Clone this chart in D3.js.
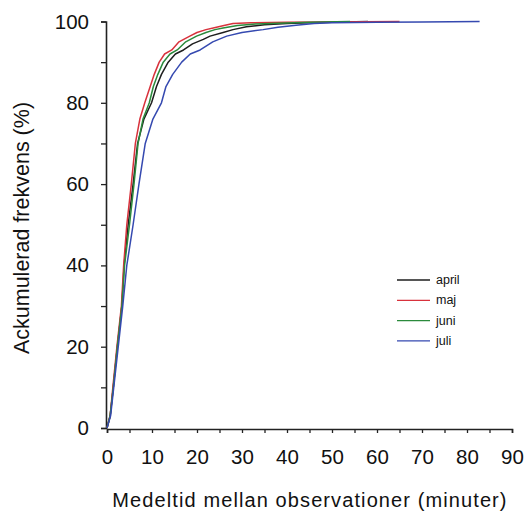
<!DOCTYPE html>
<html>
<head>
<meta charset="utf-8">
<script src="https://cdn.jsdelivr.net/npm/d3@7"></script>
<style>
  body { margin: 0; background: #fff; }
  text { font-family: "Liberation Sans", Arial, sans-serif; }
</style>
</head>
<body>
<svg id="chart" width="525" height="512"></svg>
<script>
// cumulative frequency (%) vs mean time between observations (minutes)
const months = ["april", "maj", "juni", "juli"];
const colors = ["#1e1e1e", "#d8323c", "#2b8a3c", "#3549b0"];

const aprilMin = [0, 0.7, 1.4, 2.3, 3.3, 3.8, 4.7, 5.8, 6.8, 8.2, 9.9, 11, 12.1, 13.6, 15.2, 17, 19, 21.4, 22.9, 25.8, 28, 31, 35, 40, 45, 50, 58];
const aprilPct = [0, 3, 10, 20, 30, 40, 50, 60, 70, 76, 80, 84, 87, 90, 92, 93, 94.5, 95.6, 96.4, 97.3, 98, 98.7, 99.2, 99.5, 99.7, 99.8, 100];

const majMin = [0, 0.7, 1.3, 2.2, 3.2, 3.7, 4.4, 5.4, 6.3, 7.3, 8.4, 9.6, 10.5, 11.6, 12.8, 14.4, 16, 18.4, 20, 22, 23.6, 26, 28, 32, 40, 50, 65];
const majPct = [0, 3, 10, 20, 30, 40, 50, 60, 70, 76, 80, 84, 87, 90, 92, 93, 95, 96.4, 97.3, 98, 98.4, 99, 99.5, 99.7, 99.8, 99.9, 100];

const juniMin = [0, 0.7, 1.4, 2.3, 3.3, 3.9, 5.0, 6.0, 6.9, 8.0, 9.4, 10.3, 11.3, 12.5, 14, 15.6, 17.5, 19.9, 22, 24, 25.8, 29, 33, 38, 45, 54];
const juniPct = [0, 3, 10, 20, 30, 40, 50, 60, 70, 76, 80, 84, 87, 90, 92, 93, 95, 96.4, 97.3, 98, 98.4, 99, 99.4, 99.6, 99.8, 100];

const juliMin = [0, 0.8, 1.5, 2.5, 3.5, 4.4, 5.8, 7.1, 8.5, 10.2, 12.1, 13.1, 14.6, 16.6, 18.5, 20.7, 23.5, 26.6, 30, 34.7, 38, 42, 46, 50, 60, 70, 82.8];
const juliPct = [0, 3, 10, 20, 30, 40, 50, 60, 70, 76, 80, 84, 87, 90, 92, 93, 95, 96.4, 97.3, 98, 98.6, 99.1, 99.5, 99.7, 99.8, 99.9, 100];

const xTickLabels = [0, 10, 20, 30, 40, 50, 60, 70, 80, 90];
const yTickLabels = [0, 20, 40, 60, 80, 100];

const series = [
  { name: months[0], xs: aprilMin, ys: aprilPct },
  { name: months[1], xs: majMin, ys: majPct },
  { name: months[2], xs: juniMin, ys: juniPct },
  { name: months[3], xs: juliMin, ys: juliPct }
];

const svg = d3.select("#chart");

const x = d3.scaleLinear().domain([0, 90]).range([107, 512]);
const y = d3.scaleLinear().domain([0, 100]).range([428, 21.5]);
const color = d3.scaleOrdinal(months, colors);

// y axis: ticks every 10, labels every 20
const yAxis = svg.append("g")
    .attr("transform", "translate(106,0)")
    .call(d3.axisLeft(y)
      .tickValues(d3.range(0, 101, 10))
      .tickSize(5)
      .tickPadding(12)
      .tickFormat(d => yTickLabels.includes(d) ? d : ""));

// x axis: ticks every 5, labels every 10
const xAxis = svg.append("g")
    .attr("transform", "translate(0,429)")
    .call(d3.axisBottom(x)
      .tickValues(d3.range(0, 91, 5))
      .tickSize(4)
      .tickPadding(16)
      .tickFormat(d => xTickLabels.includes(d) ? d : ""));

[yAxis, xAxis].forEach(a => {
  a.select(".domain").attr("stroke", "#222").attr("stroke-width", 1.6);
  a.selectAll(".tick line").attr("stroke", "#222").attr("stroke-width", 1.3);
  a.selectAll(".tick text")
    .attr("fill", "#111")
    .attr("font-size", 20.5)
    .attr("font-family", "Liberation Sans, Arial, sans-serif");
});

svg.append("text")
    .attr("x", 310)
    .attr("y", 507)
    .attr("text-anchor", "middle")
    .attr("font-size", 20)
    .attr("letter-spacing", 1.1)
    .attr("fill", "#111")
    .text("Medeltid mellan observationer (minuter)");

svg.append("text")
    .attr("transform", "translate(29,228) rotate(-90)")
    .attr("text-anchor", "middle")
    .attr("font-size", 21.5)
    .attr("fill", "#111")
    .text("Ackumulerad frekvens (%)");

const line = d3.line()
    .x(d => x(d[0]))
    .y(d => y(d[1]));

svg.append("g")
  .selectAll("path")
  .data(series)
  .join("path")
    .attr("fill", "none")
    .attr("stroke", d => color(d.name))
    .attr("stroke-width", 1.5)
    .attr("stroke-linejoin", "round")
    .attr("d", d => line(d.xs.map((v, i) => [v, d.ys[i]])));

// legend
const legend = svg.append("g")
  .selectAll("g")
  .data(months)
  .join("g")
    .attr("transform", (d, i) => `translate(397,${280 + i * 20.3})`);

legend.append("line")
    .attr("x1", 0)
    .attr("x2", 33)
    .attr("stroke", d => color(d))
    .attr("stroke-width", 1.3);

legend.append("text")
    .attr("x", 39)
    .attr("dy", "0.32em")
    .attr("font-size", 12.5)
    .attr("fill", "#111")
    .text(d => d);
</script>
</body>
</html>
